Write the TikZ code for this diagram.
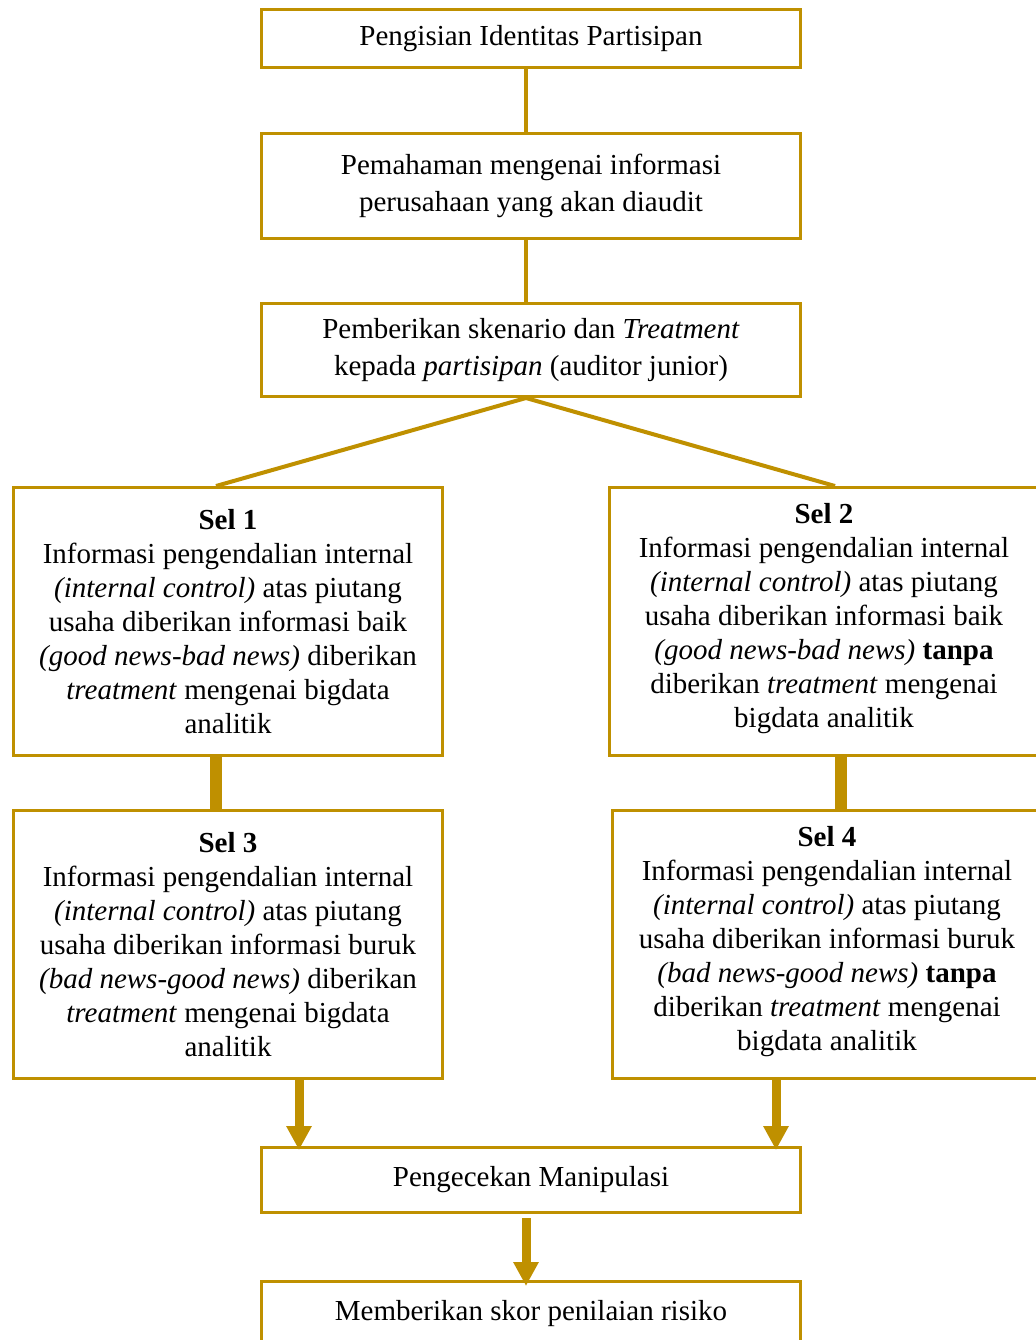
\documentclass[tikz,border=0pt]{standalone}
\usepackage{fontspec}
\setmainfont{Liberation Serif}
\usetikzlibrary{arrows.meta}
\definecolor{gold}{RGB}{191,144,0}

\begin{document}
\begin{tikzpicture}[x=0.5pt,y=-0.5pt]
      \tikzset{box/.style={draw=gold, line width=1.5pt, fill=white, align=center, inner sep=0pt, font=\fontsize{14.5}{18.5}\selectfont},
               selbox/.style={box, minimum width=214.5pt, minimum height=134pt, font=\fontsize{14.5}{17}\selectfont},
               link/.style={draw=gold, line width=2pt},
               bar/.style={draw=gold, line width=6pt},
               flow/.style={draw=gold, line width=4.5pt, -{Triangle[width=12pt,length=12pt]}, shorten >=-2pt}}
      \useasboundingbox (0,0) rectangle (1035,1340);
%% Boxes
      	\node[box, minimum width=269.5pt, minimum height=29pt] (b1) at (531,38.5) {Pengisian Identitas Partisipan};
      	\node[box, minimum width=269.5pt, minimum height=52.5pt] (b2) at (531,186) {Pemahaman mengenai informasi\\perusahaan yang akan diaudit};
      	\node[box, minimum width=269.5pt, minimum height=46.5pt] (b3) at (531,350) {Pemberikan skenario dan \textit{Treatment}\\kepada \textit{partisipan} (auditor junior)};
      	\node[selbox] (s1) at (228,621.5) {\textbf{Sel 1}\\Informasi pengendalian internal\\\textit{(internal control)} atas piutang\\usaha diberikan informasi baik\\\textit{(good news-bad news)} diberikan\\\textit{treatment} mengenai bigdata\\analitik};
      	\node[selbox] (s2) at (824,621.5) {\textbf{Sel 2}\\Informasi pengendalian internal\\\textit{(internal control)} atas piutang\\usaha diberikan informasi baik\\\textit{(good news-bad news)} \textbf{tanpa}\\diberikan \textit{treatment} mengenai\\bigdata analitik\\[-11pt]};
      	\node[selbox] (s3) at (228,944.5) {\textbf{Sel 3}\\Informasi pengendalian internal\\\textit{(internal control)} atas piutang\\usaha diberikan informasi buruk\\\textit{(bad news-good news)} diberikan\\\textit{treatment} mengenai bigdata\\analitik};
      	\node[selbox] (s4) at (827,944.5) {\textbf{Sel 4}\\Informasi pengendalian internal\\\textit{(internal control)} atas piutang\\usaha diberikan informasi buruk\\\textit{(bad news-good news)} \textbf{tanpa}\\diberikan \textit{treatment} mengenai\\bigdata analitik\\[-11pt]};
      	\node[box, minimum width=269.5pt, minimum height=32.5pt] (pk) at (531,1180) {Pengecekan Manipulasi};
      	\node[box, minimum width=269.5pt, minimum height=32.5pt] (mb) at (531,1314) {Memberikan skor penilaian risiko};
%% Columns
      	\coordinate (spine) at (526,0);
      	\coordinate (lcol) at (216,0);
      	\coordinate (rcol) at (835,0);
      	\coordinate (larr) at (299,0);
      	\coordinate (rarr) at (776,0);
%Edges
		\draw[link] (spine |- b1.south) -- (spine |- b2.north);
		\draw[link] (spine |- b2.south) -- (spine |- b3.north);
		\draw[link] (spine |- b3.south) -- (lcol |- s1.north);
		\draw[link] (spine |- b3.south) -- (rcol |- s2.north);
		\draw[bar] (lcol |- s1.south) -- (lcol |- s3.north);
		\draw[bar] ([xshift=3pt]rcol |- s2.south) -- ([xshift=3pt]rcol |- s4.north);
		\draw[flow] (larr |- s3.south) -- (larr |- pk.north);
		\draw[flow] (rarr |- s4.south) -- (rarr |- pk.north);
		\draw[flow, shorten <=2pt, shorten >=-3pt] (spine |- pk.south) -- (spine |- mb.north);
	\end{tikzpicture}
\end{document}
